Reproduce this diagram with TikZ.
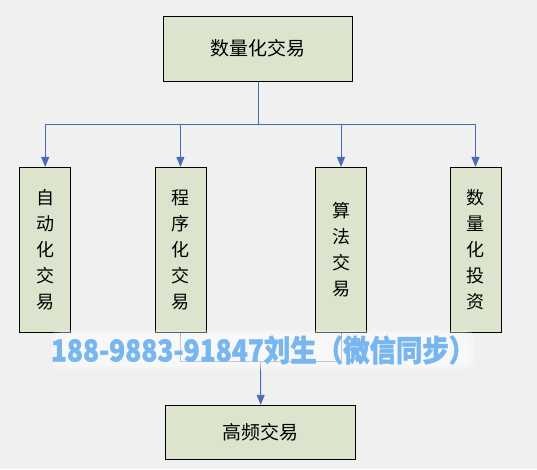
\documentclass[tikz,border=0pt]{standalone}
\usepackage{fontspec}
\setmainfont{Noto Sans CJK SC}
\newfontfamily\wmfont[BoldFeatures={FakeBold=1.5}]{Noto Sans CJK SC}
\usetikzlibrary{arrows.meta,calc}
\definecolor{bg}{RGB}{240,240,240}
\definecolor{boxfill}{RGB}{221,228,206}
\definecolor{lineblue}{RGB}{74,108,180}
\definecolor{wmblue}{RGB}{120,182,240}
\tikzset{
  box/.style={draw=black, fill=boxfill, line width=0.8pt, inner sep=0pt, font=\fontsize{18}{26}\selectfont, align=center},
  conn/.style={draw=lineblue, line width=0.9pt},
  arr/.style={conn, -{Triangle[length=10pt,width=8pt]}},
  wm/.style={font=\wmfont\fontsize{30}{32}\bfseries\selectfont, inner sep=1pt, xscale=0.88},
  halo/.style={fill=white, opacity=0.22, rounded corners=9pt}
}
\begin{document}
\begin{tikzpicture}[x=1pt,y=-1pt]
\fill[bg] (0,0) rectangle (537,469);
\useasboundingbox (0,0) rectangle (537,469);
% boxes
\node[box, minimum width=189pt, minimum height=65pt, font=\fontsize{19}{22}\selectfont] (top) at (258.2,48.7) {数量化交易};
\node[box, minimum width=51pt, minimum height=165pt] (b1) at (45.2,249.8) {自\\动\\化\\交\\易};
\node[box, minimum width=51pt, minimum height=165pt] (b2) at (180.4,249.8) {程\\序\\化\\交\\易};
\node[box, minimum width=51pt, minimum height=165pt] (b3) at (341,249.8) {算\\法\\交\\易};
\node[box, minimum width=51pt, minimum height=165pt] (b4) at (475.5,249.8) {数\\量\\化\\投\\资};
\node[box, minimum width=190pt, minimum height=54pt, font=\fontsize{19}{22}\selectfont] (bot) at (260.7,432.2) {高频交易};
% connectors
\coordinate (split) at (258.2,124.3);
\draw[conn] (top.south) -- (split);
\draw[arr] (split) -| (b1.north);
\draw[arr] (split) -| (b2.north);
\draw[arr] (split) -| (b3.north);
\draw[arr] (split) -| (b4.north);
\coordinate (join) at (260.5,361);
\draw[conn] (b2.south) |- (join);
\draw[conn] (b3.south) |- (join);
\draw[arr] (join) -- (bot.north);
% watermark with soft halo
\path (263,350) coordinate (wmc);
\foreach \k in {0,2,4,6}{
  \path[halo] ($(wmc)+(-206-\k,-14-\k)$) rectangle ($(wmc)+(206+\k,14+\k)$);
}
\node[wm, text=wmblue] (wmk) at (wmc) {188-9883-91847刘生（微信同步）};
\end{tikzpicture}
\end{document}
